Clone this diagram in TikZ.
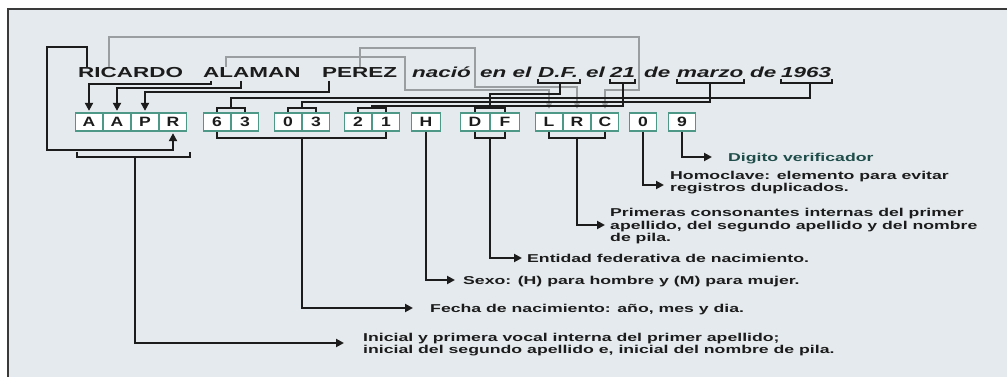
\documentclass[tikz,border=0pt]{standalone}
\usepackage{fontspec}
\setmainfont{Liberation Sans}
\newfontfamily\widef[FakeStretch=1.55]{Liberation Sans}
\newfontfamily\cellff[FakeStretch=1.3]{Liberation Sans}
\usetikzlibrary{arrows.meta}
\definecolor{blk}{HTML}{1C1C1C}
\definecolor{gry}{HTML}{9A9EA0}
\definecolor{tealb}{HTML}{4E9888}
\definecolor{bgc}{HTML}{E4EAED}
\definecolor{framec}{HTML}{3A3A3A}
\definecolor{digc}{HTML}{1F4D4A}
\newcommand\titlefnt{\widef\bfseries\fontsize{14.5}{17}\selectfont}
\newcommand\titleifnt{\widef\bfseries\itshape\fontsize{14.5}{17}\selectfont}
\newcommand\descfnt{\widef\bfseries\fontsize{11.4}{13}\selectfont}
\newcommand\cellfnt{\cellff\bfseries\fontsize{13.5}{15}\selectfont}
\begin{document}
\begin{tikzpicture}[x=1pt,y=-1pt,
  blkline/.style={draw=blk,line width=2.6pt},
  gryline/.style={draw=gry,line width=2pt},
  blkarrow/.style={blkline,-{Triangle[length=8pt,width=8pt]},shorten >=1pt},
  gryarrow/.style={gryline,-{Triangle[length=5.5pt,width=5.5pt]},shorten >=3pt},
  cellbox/.style={draw=tealb,line width=1.8pt,fill=white,minimum width=27pt,minimum height=18.5pt,inner sep=0pt,font=\cellfnt,text=blk},
  ttl/.style={anchor=base west,inner sep=0pt,font=\titlefnt,text=blk},
  ttli/.style={anchor=base west,inner sep=0pt,font=\titleifnt,text=blk},
  desc/.style={anchor=base west,inner sep=0pt,font=\descfnt,text=blk}]
\useasboundingbox (0,0) rectangle (1007,377);
\fill[white] (0,0) rectangle (1007,377);
\fill[bgc] (8,9) rectangle (1007,377);
\draw[framec,line width=1.2pt] (8,377) -- (8,9) -- (1007,9);

% title words
\node[ttl] (wRic) at (78,78) {RICARDO};
\node[ttl] (wAla) at (203,78) {ALAMAN};
\node[ttl] (wPer) at (322,78) {PEREZ};
\node[ttli] (wNac) at (412,78) {nació};
\node[ttli] (wEnel) at (480,78) {en el};
\node[ttli] (wDF) at (538,78) {D.F.};
\node[ttli] (wEl) at (586,78) {el};
\node[ttli] (w21) at (610,78) {21};
\node[ttli] (wDe) at (644,78) {de};
\node[ttli] (wMar) at (677,78) {marzo};
\node[ttli] (wDe2) at (750,78) {de};
\node[ttli] (w1963) at (781,78) {1963};

% letter anchor coordinates
\coordinate (tRr) at (87,67);
\coordinate (tRc) at (109,67);
\coordinate (tAl) at (226,67);
\coordinate (tPr) at (360,67);
\coordinate (tAa) at (211,81);
\coordinate (tAb) at (241,81);
\coordinate (tPp) at (329,81);

% cells
\node[cellbox] (c1) at (89,122) {A};
\node[cellbox] (c2) at (117,122) {A};
\node[cellbox] (c3) at (145,122) {P};
\node[cellbox] (c4) at (173,122) {R};
\node[cellbox] (c5) at (217,122) {6};
\node[cellbox] (c6) at (245,122) {3};
\node[cellbox] (c7) at (288,122) {0};
\node[cellbox] (c8) at (316,122) {3};
\node[cellbox] (c9) at (358,122) {2};
\node[cellbox] (c10) at (386,122) {1};
\node[cellbox,minimum width=29pt] (c11) at (426,122) {H};
\node[cellbox,minimum width=29pt] (c12) at (475,122) {D};
\node[cellbox,minimum width=29pt] (c13) at (505,122) {F};
\node[cellbox] (c14) at (549,122) {L};
\node[cellbox] (c15) at (577,122) {R};
\node[cellbox] (c16) at (605,122) {C};
\node[cellbox] (c17) at (643,122) {0};
\node[cellbox] (c18) at (682,122) {9};

% R loop (first name initial)
\draw[blkarrow] (tRr) -- (87,47) -- (47,47) -- (47,150) -| (c4.south);

% gray connectors (internal consonants)
\draw[gryarrow] (tRc) |- (639,37) -- (639,90) -| (c16.north);
\draw[gryarrow] (tAl) |- (405,57) -- (405,90) -| (c14.north);
\draw[gryarrow] (tPr) |- (475,48) -- (475,87) -| (c15.north);

% black connectors to A A P
\draw[blkarrow] (tAa) -- (211,84) -| (c1.north);
\draw[blkarrow] (tAb) -- (241,88) -| (c2.north);
\draw[blkarrow] (tPp) -- (329,92) -| (c3.north);

% underbrackets below title words
\draw[blkline] (538,79) |- (580,83) -- (580,79);
\draw[blkline] (610,79) |- (635,83) -- (635,79);
\draw[blkline] (677,79) |- (744,83) -- (744,79);
\draw[blkline] (781,79) |- (832,83) -- (832,79);

% D.F. -> DF
\draw[blkline] (560,83) |- (490,94) -- (490,109);
\draw[blkline] (c12.north) -- ++(0,-4) -| (c13.north);
% 1963 -> 63
\draw[blkline] (810,83) |- (231,98) -- (231,109);
\draw[blkline] (c5.north) -- ++(0,-4) -| (c6.north);
% marzo -> 03
\draw[blkline] (710,83) |- (302,102) -- (302,109);
\draw[blkline] (c7.north) -- ++(0,-4) -| (c8.north);
% 21 -> 21
\draw[blkline] (623,83) |- (372,106) -- (372,109);
\draw[blkline] (c9.north) -- ++(0,-4) -| (c10.north);

% arrow tip coordinates
\coordinate (aIni) at (345,343);
\coordinate (aFec) at (414,308);
\coordinate (aSex) at (456,280);
\coordinate (aEnt) at (523,258);
\coordinate (aPri) at (606,225);
\coordinate (aHom) at (665,185);
\coordinate (aDig) at (713,157);

% bottom brackets and leaders
\draw[blkline] (77,152) |- (190,157) -- (190,152);
\draw[blkarrow] (135,157) |- (aIni);
\draw[blkline] (c5.south) -- ++(0,6) -| (c10.south);
\draw[blkarrow] (302,137) |- (aFec);
\draw[blkarrow] (c11.south) |- (aSex);
\draw[blkline] (c12.south) -- ++(0,6) -| (c13.south);
\draw[blkarrow] (490,137) |- (aEnt);
\draw[blkline] (c14.south) -- ++(0,6) -| (c16.south);
\draw[blkarrow] (577,137) |- (aPri);
\draw[blkarrow] (c17.south) |- (aHom);
\draw[blkarrow] (c18.south) |- (aDig);

% descriptions
\node[desc,text=digc] (dDig) at (728,161) {Digito verificador};
\node[desc] (dHom1) at (670,179) {Homoclave: elemento para evitar};
\node[desc] (dHom2) at (670,191) {registros duplicados.};
\node[desc] (dPri1) at (610,216) {Primeras consonantes internas del primer};
\node[desc] (dPri2) at (610,229) {apellido, del segundo apellido y del nombre};
\node[desc] (dPri3) at (610,241) {de pila.};
\node[desc] (dEnt) at (527,262) {Entidad federativa de nacimiento.};
\node[desc] (dSex) at (463,284) {Sexo: (H) para hombre y (M) para mujer.};
\node[desc] (dFec) at (430,312) {Fecha de nacimiento: año, mes y dia.};
\node[desc] (dIni1) at (363,341) {Inicial y primera vocal interna del primer apellido;};
\node[desc] (dIni2) at (363,353) {inicial del segundo apellido e, inicial del nombre de pila.};
\end{tikzpicture}
\end{document}
